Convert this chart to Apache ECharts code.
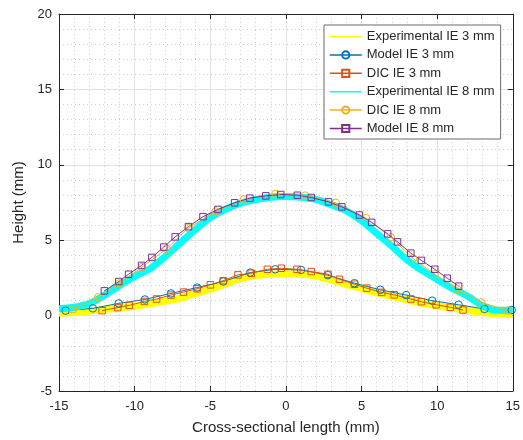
<!DOCTYPE html>
<html>
<head>
<meta charset="utf-8">
<script src="https://cdn.jsdelivr.net/npm/echarts@6/dist/echarts.min.js"></script>
<style>
  html, body { margin: 0; padding: 0; background: #fff; }
  #chart { width: 523px; height: 440px; }
</style>
</head>
<body>
<div id="chart"></div>
<script>
// experimental bands, read every 1 mm
var expX = [-15,-14,-13,-12,-11,-10,-9,-8,-7,-6,-5,-4,-3,-2,-1,0,1,2,3,4,5,6,7,8,9,10,11,12,13,14,15];
var exp3 = [0.15,0.2,0.3,0.4,0.5,0.62,0.78,0.95,1.15,1.45,1.75,2.1,2.45,2.65,2.75,2.78,2.75,2.6,2.35,2.05,1.8,1.5,1.27,1.05,0.82,0.65,0.5,0.35,0.2,0.1,0.05];
var exp8 = [0.45,0.55,0.8,1.35,2.0,2.6,3.1,3.9,4.8,5.7,6.5,7.05,7.45,7.7,7.85,7.9,7.85,7.7,7.35,6.95,6.3,5.45,4.6,3.7,3.0,2.4,1.8,1.3,0.65,0.35,0.35];

var model3X = [-14.56,-12.76,-11.05,-9.32,-7.6,-5.87,-4.14,-2.36,-0.71,1.0,2.78,4.53,6.24,7.95,9.67,11.42,13.13,14.93];
var model3Y = [0.33,0.48,0.81,1.07,1.47,1.86,2.26,2.85,3.07,3.03,2.68,2.15,1.71,1.36,0.99,0.72,0.44,0.37];

var dic3X = [-12.15,-11.12,-10.35,-9.36,-8.55,-7.6,-6.77,-5.87,-4.99,-4.14,-3.17,-2.29,-1.22,-0.3,0.73,1.68,2.78,3.54,4.53,5.34,6.33,7.16,8.26,8.96,9.93,10.87,11.71];
var dic3Y = [0.33,0.53,0.68,0.94,1.1,1.36,1.56,1.78,2.04,2.32,2.7,2.81,3.07,3.14,3.07,2.92,2.74,2.41,2.08,1.82,1.54,1.38,1.1,0.92,0.72,0.55,0.37];

var dic8X = [-14.08,-12.41,-11.01,-9.51,-7.89,-6.44,-4.64,-2.78,-0.69,1.28,3.3,5.3,6.94,8.41,9.84,11.33,12.91,14.67];
var dic8Y = [0.42,1.21,2.13,3.22,4.43,5.81,6.91,7.7,8.07,7.96,7.48,6.47,5.2,3.79,2.74,1.75,0.88,0.33];

var model8X = [-12.0,-11.05,-10.4,-9.54,-8.86,-8.07,-7.32,-6.44,-5.48,-4.49,-3.39,-2.38,-1.33,-0.34,0.76,1.68,2.82,3.7,4.86,5.67,6.73,7.38,8.26,8.96,9.84,10.67,11.42];
var model8Y = [1.64,2.26,2.74,3.33,3.86,4.54,5.22,5.9,6.56,7.04,7.48,7.79,7.94,8.03,7.98,7.83,7.54,7.21,6.67,6.18,5.42,4.89,4.14,3.66,3.07,2.48,1.95];

var xTicks = [-15, -10, -5, 0, 5, 10, 15];
var yTicks = [-5, 0, 5, 10, 15, 20];

function pairs(xs, ys) {
  return xs.map(function (x, i) { return [x, ys[i]]; });
}

var font = 'Liberation Sans, Arial, Helvetica, sans-serif';
var ink = '#262626';

function markerSeries(name, xs, ys, color, symbol, size) {
  return {
    name: name,
    type: 'line',
    data: pairs(xs, ys),
    symbol: symbol,
    symbolSize: size,
    showSymbol: true,
    clip: false,
    lineStyle: { color: color, width: 1 },
    itemStyle: { color: 'rgba(255,255,255,0)', borderColor: color, borderWidth: 1 },
    emphasis: { disabled: true },
    animation: false
  };
}

function bandSeries(name, ys, color) {
  return {
    name: name,
    type: 'line',
    data: pairs(expX, ys),
    symbol: 'none',
    smooth: 0.3,
    lineStyle: { color: color, width: 7 },
    itemStyle: { color: color },
    emphasis: { disabled: true },
    animation: false
  };
}

var chart = echarts.init(document.getElementById('chart'));

var axisCommon = {
  axisLine: { show: true, onZero: false, lineStyle: { color: ink, width: 1 } },
  axisTick: { show: true, inside: true, length: 5, lineStyle: { color: ink } },
  minorTick: { show: false, splitNumber: 5 },
  splitLine: { show: true, lineStyle: { color: '#e3e3e3', width: 1 } },
  minorSplitLine: { show: true, lineStyle: { color: '#cfcfcf', width: 1, type: [1, 3] } }
};

chart.setOption({
  backgroundColor: '#fff',
  animation: false,
  grid: { left: 59, top: 14, right: 8, bottom: 46 },
  xAxis: [
    Object.assign({}, axisCommon, {
      type: 'value', min: xTicks[0], max: xTicks[xTicks.length - 1], interval: 5,
      position: 'bottom',
      name: 'Cross-sectional length (mm)', nameLocation: 'middle', nameGap: 29,
      nameTextStyle: { color: ink, fontSize: 15, fontFamily: font },
      axisLabel: { color: ink, fontSize: 13, fontFamily: font, margin: 9 }
    }),
    {
      type: 'value', min: xTicks[0], max: xTicks[xTicks.length - 1], interval: 5,
      position: 'top',
      axisLine: { show: true, onZero: false, lineStyle: { color: ink, width: 1 } },
      axisTick: { show: true, inside: true, length: 5, lineStyle: { color: ink } },
      axisLabel: { show: false }, splitLine: { show: false }
    }
  ],
  yAxis: [
    Object.assign({}, axisCommon, {
      type: 'value', min: yTicks[0], max: yTicks[yTicks.length - 1], interval: 5,
      position: 'left',
      name: 'Height (mm)', nameLocation: 'middle', nameGap: 30,
      nameTextStyle: { color: ink, fontSize: 15, fontFamily: font },
      axisLabel: { color: ink, fontSize: 13, fontFamily: font, margin: 7 }
    }),
    {
      type: 'value', min: yTicks[0], max: yTicks[yTicks.length - 1], interval: 5,
      position: 'right',
      axisLine: { show: true, onZero: false, lineStyle: { color: ink, width: 1 } },
      axisTick: { show: true, inside: true, length: 5, lineStyle: { color: ink } },
      axisLabel: { show: false }, splitLine: { show: false }
    }
  ],
  legend: {
    orient: 'vertical',
    left: 324,
    top: 25,
    padding: [5, 6, 4, 5],
    itemWidth: 32,
    itemHeight: 9,
    itemGap: 5.4,
    backgroundColor: '#fff',
    borderColor: '#6b6b6b',
    borderWidth: 1,
    borderRadius: 0,
    lineStyle: { width: 1.5 },
    textStyle: { color: ink, fontSize: 13, fontFamily: font },
    data: [
      { name: 'Experimental IE 3 mm', itemStyle: { opacity: 0 } },
      { name: 'Model IE 3 mm' },
      { name: 'DIC IE 3 mm' },
      { name: 'Experimental IE 8 mm', itemStyle: { opacity: 0 } },
      { name: 'DIC IE 8 mm' },
      { name: 'Model IE 8 mm' }
    ]
  },
  series: [
    bandSeries('Experimental IE 3 mm', exp3, '#ffff00'),
    markerSeries('Model IE 3 mm', model3X, model3Y, '#0072bd', 'circle', 7.5),
    markerSeries('DIC IE 3 mm', dic3X, dic3Y, '#d95319', 'rect', 6.5),
    bandSeries('Experimental IE 8 mm', exp8, '#00ffff'),
    markerSeries('DIC IE 8 mm', dic8X, dic8Y, '#edb120', 'circle', 7.5),
    markerSeries('Model IE 8 mm', model8X, model8Y, '#7e2f8e', 'rect', 6.5)
  ]
});
</script>
</body>
</html>
